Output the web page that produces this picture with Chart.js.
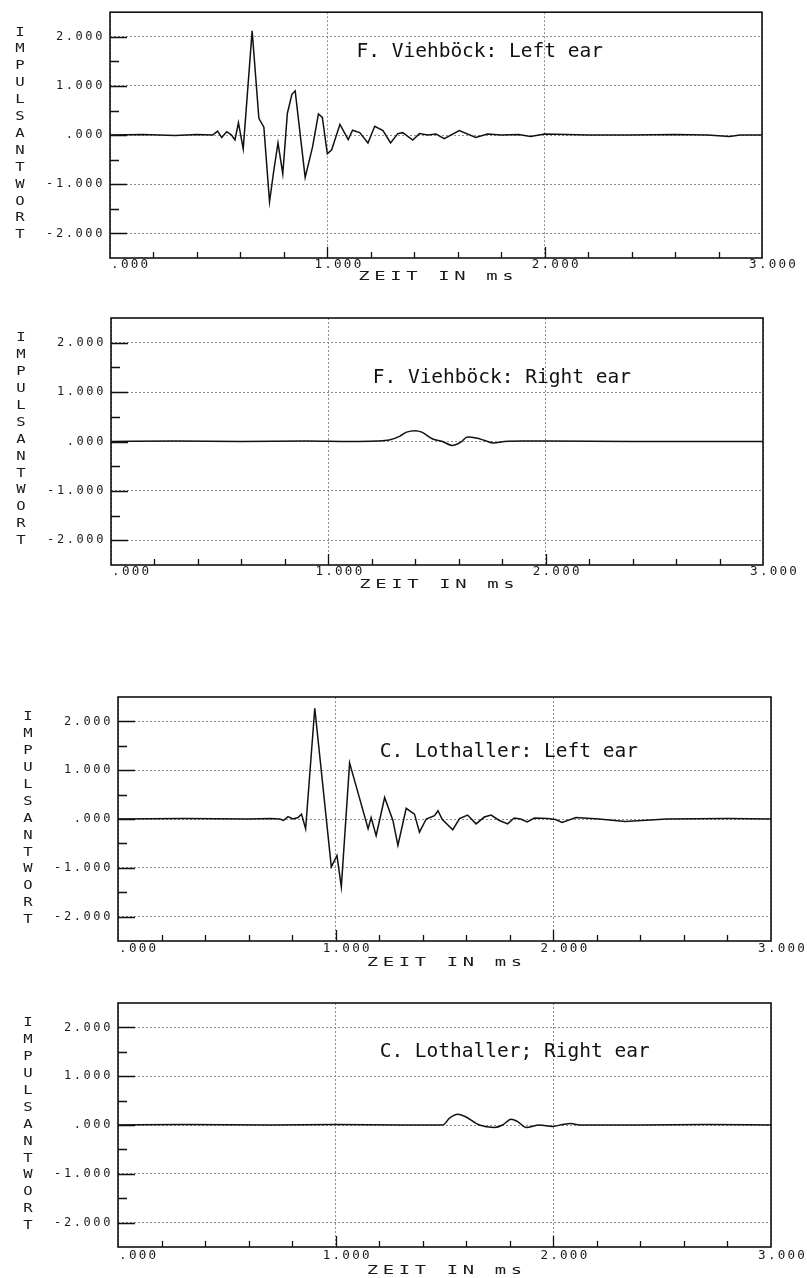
<!DOCTYPE html>
<html>
<head>
<meta charset="utf-8">
<script src="https://cdn.jsdelivr.net/npm/chart.js@4.4.0/dist/chart.umd.min.js"></script>
<style>
body{margin:0;background:#fff;}
#page{position:relative;width:807px;height:1278px;overflow:hidden;}
#page canvas{position:absolute;left:0;}
</style>
</head>
<body>
<div id="page">
<canvas id="c1" width="807" height="300" style="top:0px"></canvas>
<canvas id="c2" width="807" height="300" style="top:300px"></canvas>
<canvas id="c3" width="807" height="320" style="top:660px"></canvas>
<canvas id="c4" width="807" height="298" style="top:980px"></canvas>
</div>
<script>

/* axes */
var xTickValues=[0,1,2,3];
var xTickLabels=['.000','1.000','2.000','3.000'];
var xMinorTicks=[0.2,0.4,0.6,0.8,1,1.2,1.4,1.6,1.8,2,2.2,2.4,2.6,2.8];
var yTickValues=[-2,-1,0,1,2];
var yTickLabels=['-2.000','-1.000','.000','1.000','2.000'];
var yMinorTicks=[-2,-1.5,-1,-0.5,0,0.5,1,1.5,2];
var xTitle='ZEIT IN ms';
var yTitle='IMPULSANTWORT';
var titles=['F. Viehböck: Left ear','F. Viehböck: Right ear','C. Lothaller: Left ear','C. Lothaller; Right ear'];

/* F. Viehböck, linkes Ohr */
var viehLeftT=[0,0.15,0.3,0.4,0.472,0.495,0.514,0.537,0.559,0.575,0.591,0.613,0.654,0.685,0.708,0.734,0.753,0.773,0.795,0.816,0.837,0.852,0.898,0.932,0.959,0.977,1.0,1.02,1.058,1.096,1.116,1.149,1.187,1.218,1.256,1.291,1.324,1.347,1.393,1.424,1.462,1.5,1.538,1.607,1.683,1.737,1.8,1.88,1.935,2.0,2.2,2.39,2.6,2.75,2.85,2.9,3.0];
var viehLeftV=[0,0.01,-0.01,0.01,0,0.08,-0.05,0.07,0,-0.10,0.25,-0.28,2.12,0.34,0.16,-1.36,-0.74,-0.16,-0.79,0.44,0.83,0.90,-0.86,-0.24,0.43,0.36,-0.38,-0.30,0.22,-0.09,0.10,0.05,-0.16,0.18,0.09,-0.16,0.03,0.05,-0.10,0.03,0,0.02,-0.07,0.09,-0.05,0.02,0,0.01,-0.03,0.02,0,0,0.01,0,-0.03,0,0];

/* F. Viehböck, rechtes Ohr */
var viehRightT=[0,0.3,0.6,0.9,1.1,1.22,1.28,1.33,1.36,1.40,1.43,1.48,1.525,1.57,1.61,1.64,1.68,1.72,1.76,1.81,1.9,2.0,2.4,2.8,3.0];
var viehRightV=[0,0.01,0,0.01,0,0.01,0.03,0.11,0.19,0.22,0.19,0.05,0,-0.08,-0.01,0.09,0.07,0.02,-0.03,0,0.01,0.01,0,0,0];

/* C. Lothaller, linkes Ohr */
var lothLeftT=[0,0.3,0.6,0.70,0.743,0.76,0.781,0.804,0.827,0.843,0.862,0.904,0.98,1.006,1.026,1.064,1.149,1.163,1.186,1.225,1.263,1.286,1.324,1.362,1.385,1.416,1.454,1.47,1.49,1.538,1.569,1.606,1.645,1.683,1.714,1.752,1.79,1.82,1.85,1.88,1.913,1.974,2.01,2.04,2.104,2.21,2.33,2.52,2.8,3.0];
var lothLeftV=[0,0.01,0,0.01,0,-0.03,0.05,0,0.03,0.10,-0.20,2.27,-0.98,-0.75,-1.39,1.15,-0.20,0.03,-0.34,0.44,-0.03,-0.54,0.22,0.10,-0.27,0,0.07,0.17,-0.01,-0.22,0.01,0.08,-0.10,0.04,0.08,-0.03,-0.10,0.02,0,-0.06,0.02,0.01,-0.01,-0.07,0.03,0,-0.05,0,0.01,0];

/* C. Lothaller, rechtes Ohr */
var lothRightT=[0,0.3,0.7,1.0,1.3,1.492,1.523,1.561,1.592,1.66,1.729,1.767,1.806,1.836,1.875,1.936,1.997,2.043,2.08,2.12,2.4,2.7,3.0];
var lothRightV=[0,0.01,0,0.01,0,0,0.14,0.22,0.18,0,-0.05,0,0.12,0.07,-0.05,0,-0.03,0.01,0.03,0,0,0.01,0];

/* Lage der Diagramme */
var layouts=[
{id:'c1',padTop:12,padRight:45,yWidth:110,xHeight:42,labelDy:7,xTitleDy:19,titleAt:[1.134,1.70],smooth:false},
{id:'c2',padTop:18,padRight:44,yWidth:111,xHeight:35,labelDy:7,xTitleDy:20,titleAt:[1.204,1.28],smooth:true},
{id:'c3',padTop:37,padRight:36,yWidth:118,xHeight:39,labelDy:8,xTitleDy:22,titleAt:[1.202,1.38],smooth:false},
{id:'c4',padTop:23,padRight:36,yWidth:118,xHeight:31,labelDy:9,xTitleDy:24,titleAt:[1.202,1.49],smooth:true}
];
var xLabelShift=[0,-14,-14,-14];

function spaced(ctx,str,left,y,pitch,size,stretch){
ctx.font=size+'px "DejaVu Sans Mono"';
ctx.textAlign='center';
ctx.textBaseline='middle';
for(var i=0;i<str.length;i++){
ctx.save();
ctx.translate(left+i*pitch+pitch/2,y);
ctx.scale(stretch,1);
ctx.fillText(str[i],0,0);
ctx.restore();
}
}

var plotter={
id:'plotter',
beforeDraw:function(chart){
chart.ctx.letterSpacing='2.6px';
},
afterDraw:function(chart,args,opts){
var ctx=chart.ctx,a=chart.chartArea,xs=chart.scales.x,ys=chart.scales.y;
ctx.save();
ctx.letterSpacing='0px';
ctx.strokeStyle='#111';
ctx.lineWidth=1.6;
ctx.strokeRect(a.left,a.top,a.right-a.left,a.bottom-a.top);
ctx.lineWidth=1.3;
ctx.beginPath();
yMinorTicks.forEach(function(v){
var py=Math.round(ys.getPixelForValue(v))+0.5;
var len=(v%1===0)?17:9;
ctx.moveTo(a.left,py);ctx.lineTo(a.left+len,py);
});
xMinorTicks.forEach(function(v){
var px=Math.round(xs.getPixelForValue(v))+0.5;
var len=(v%1===0)?11:6;
ctx.moveTo(px,a.bottom);ctx.lineTo(px,a.bottom-len);
});
ctx.stroke();

ctx.fillStyle='#1a1a1a';
xTickValues.forEach(function(v,i){
spaced(ctx,xTickLabels[i],xs.getPixelForValue(v)+xLabelShift[i],a.bottom+opts.labelDy,9.8,12,1.05);
});
var pitch=16;
spaced(ctx,xTitle,(a.left+a.right)/2-xTitle.length*pitch/2,a.bottom+opts.xTitleDy,pitch,13,1.45);
for(var i=0;i<yTitle.length;i++){
spaced(ctx,yTitle[i],a.left-90-8,a.top+20+i*16.9,16,13,1.2);
}
ctx.font='19.5px "DejaVu Sans Mono"';
ctx.textAlign='left';
ctx.textBaseline='middle';
ctx.fillStyle='#111';
ctx.fillText(opts.title,xs.getPixelForValue(opts.titleAt[0]),ys.getPixelForValue(opts.titleAt[1]));
ctx.restore();
}
};

var series=[[viehLeftT,viehLeftV],[viehRightT,viehRightV],[lothLeftT,lothLeftV],[lothRightT,lothRightV]];

layouts.forEach(function(L,k){
var pts=series[k][0].map(function(t,i){return {x:t,y:series[k][1][i]};});
new Chart(document.getElementById(L.id),{
type:'line',
data:{datasets:[{
data:pts,
borderColor:'#111',
borderWidth:1.5,
pointRadius:0,
cubicInterpolationMode:L.smooth?'monotone':'default',
tension:0,
fill:false
}]},
options:{
responsive:false,
animation:false,
events:[],
layout:{padding:{top:L.padTop,right:L.padRight,left:0,bottom:0}},
plugins:{
legend:{display:false},
tooltip:{enabled:false},
plotter:{title:titles[k],titleAt:L.titleAt,labelDy:L.labelDy,xTitleDy:L.xTitleDy}
},
scales:{
x:{
type:'linear',min:0,max:3,
afterBuildTicks:function(s){s.ticks=xTickValues.map(function(v){return {value:v};});},
afterFit:function(s){s.height=L.xHeight;},
ticks:{display:false},
grid:{color:'#8c8c8c',lineWidth:1,drawTicks:false},
border:{display:false,dash:[2,2]}
},
y:{
min:-2.5,max:2.5,
afterBuildTicks:function(s){s.ticks=yTickValues.map(function(v){return {value:v};});},
afterFit:function(s){s.width=L.yWidth;},
ticks:{
padding:5,
color:'#1a1a1a',
font:{family:'DejaVu Sans Mono',size:12},
callback:function(v){return yTickLabels[yTickValues.indexOf(v)];}
},
grid:{color:'#8c8c8c',lineWidth:1,drawTicks:false},
border:{display:false,dash:[2,2]}
}
}
},
plugins:[plotter]
});
});
</script>
</body>
</html>
